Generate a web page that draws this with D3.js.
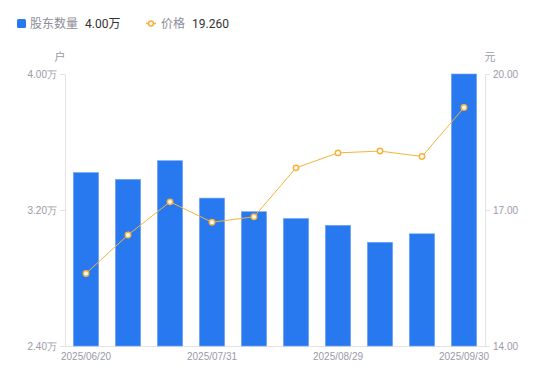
<!DOCTYPE html>
<html><head><meta charset="utf-8">
<script src="https://cdn.jsdelivr.net/npm/d3@7"></script>
<style>
body{margin:0;background:#fff;}
svg{display:block;font-family:Roboto,"Noto Sans CJK SC",sans-serif;}
</style></head>
<body><svg id="c" width="550" height="381"></svg>
<script>
const categories = ["2025/06/20","2025/06/30","2025/07/10","2025/07/31","2025/08/08","2025/08/20","2025/08/29","2025/09/10","2025/09/19","2025/09/30"];
const holders = [3.42, 3.38, 3.49, 3.27, 3.19, 3.15, 3.11, 3.01, 3.06, 4.00];
const prices = [15.60, 16.45, 17.18, 16.73, 16.85, 17.93, 18.26, 18.30, 18.18, 19.26];
const xTickLabels = ["2025/06/20","2025/07/31","2025/08/29","2025/09/30"];
const leftTicks = [2.40, 3.20, 4.00];
const rightTicks = [14.00, 17.00, 20.00];

const svg = d3.select("#c");
const L = 65, R = 485, T = 74, B = 346;
const x = d3.scaleBand().domain(categories).range([L, R]).paddingInner(0.4).paddingOuter(0.2);
const yL = d3.scaleLinear().domain([2.4, 4.0]).range([B, T]);
const yR = d3.scaleLinear().domain([14, 20]).range([B, T]);
const axisColor = "#e3e3e3", tickText = "#9a9aa6";

// left axis
const gl = svg.append("g").attr("transform", `translate(${L},0)`)
  .call(d3.axisLeft(yL).tickValues(leftTicks).tickSize(5).tickPadding(3).tickFormat(d => d3.format(".2f")(d) + "万"));
gl.select(".domain").attr("stroke", axisColor);
gl.selectAll(".tick line").attr("stroke", axisColor);
gl.selectAll(".tick text").attr("fill", tickText).attr("font-size", 10);

// right axis
const gr = svg.append("g").attr("transform", `translate(${R},0)`)
  .call(d3.axisRight(yR).tickValues(rightTicks).tickSize(5).tickPadding(3).tickFormat(d3.format(".2f")));
gr.select(".domain").attr("stroke", axisColor);
gr.selectAll(".tick line").attr("stroke", axisColor);
gr.selectAll(".tick text").attr("fill", tickText).attr("font-size", 10);

// bottom axis
const gb = svg.append("g").attr("transform", `translate(0,${B})`)
  .call(d3.axisBottom(x).tickValues(xTickLabels).tickSize(0).tickPadding(7));
gb.select(".domain").attr("stroke", axisColor);
gb.selectAll(".tick text").attr("fill", tickText).attr("font-size", 10);

// unit labels
svg.append("text").attr("x", 60).attr("y", 61).attr("text-anchor", "middle").attr("fill", tickText).attr("font-size", 11).text("户");
svg.append("text").attr("x", 490).attr("y", 61).attr("text-anchor", "middle").attr("fill", tickText).attr("font-size", 11).text("元");

// bars
svg.append("g").selectAll("rect").data(holders).join("rect")
  .attr("x", (d, i) => x(categories[i]))
  .attr("y", d => yL(d))
  .attr("width", x.bandwidth())
  .attr("height", d => B - yL(d))
  .attr("fill", "#2878f0")
  .attr("stroke", "#6ea4f5").attr("stroke-width", 0.6);

// line
const lineColor = "#f7b23b";
const line = d3.line().x((d, i) => x(categories[i]) + x.bandwidth() / 2).y(d => yR(d));
svg.append("path").datum(prices).attr("d", line).attr("fill", "none").attr("stroke", lineColor).attr("stroke-width", 1);
svg.append("g").selectAll("circle").data(prices).join("circle")
  .attr("cx", (d, i) => x(categories[i]) + x.bandwidth() / 2)
  .attr("cy", d => yR(d))
  .attr("r", 2.7).attr("fill", "#fff").attr("stroke", lineColor).attr("stroke-width", 1.5);

// legend
const lg = svg.append("g");
lg.append("rect").attr("x", 17).attr("y", 19).attr("width", 9).attr("height", 9).attr("rx", 1.5).attr("fill", "#2878f0");
lg.append("text").attr("x", 30).attr("y", 28).attr("font-size", 12).attr("fill", "#8c8c99").text("股东数量");
lg.append("text").attr("x", 85).attr("y", 28).attr("font-size", 12).attr("fill", "#333").text(d3.format(".2f")(holders[holders.length - 1]) + "万");
lg.append("line").attr("x1", 146).attr("x2", 156).attr("y1", 23.5).attr("y2", 23.5).attr("stroke", lineColor).attr("stroke-width", 1.5);
lg.append("circle").attr("cx", 151).attr("cy", 23.5).attr("r", 2.5).attr("fill", "#fff").attr("stroke", lineColor).attr("stroke-width", 1.5);
lg.append("text").attr("x", 161).attr("y", 28).attr("font-size", 12).attr("fill", "#8c8c99").text("价格");
lg.append("text").attr("x", 192).attr("y", 28).attr("font-size", 12).attr("fill", "#333").text(d3.format(".3f")(prices[prices.length - 1]));
</script></body></html>
